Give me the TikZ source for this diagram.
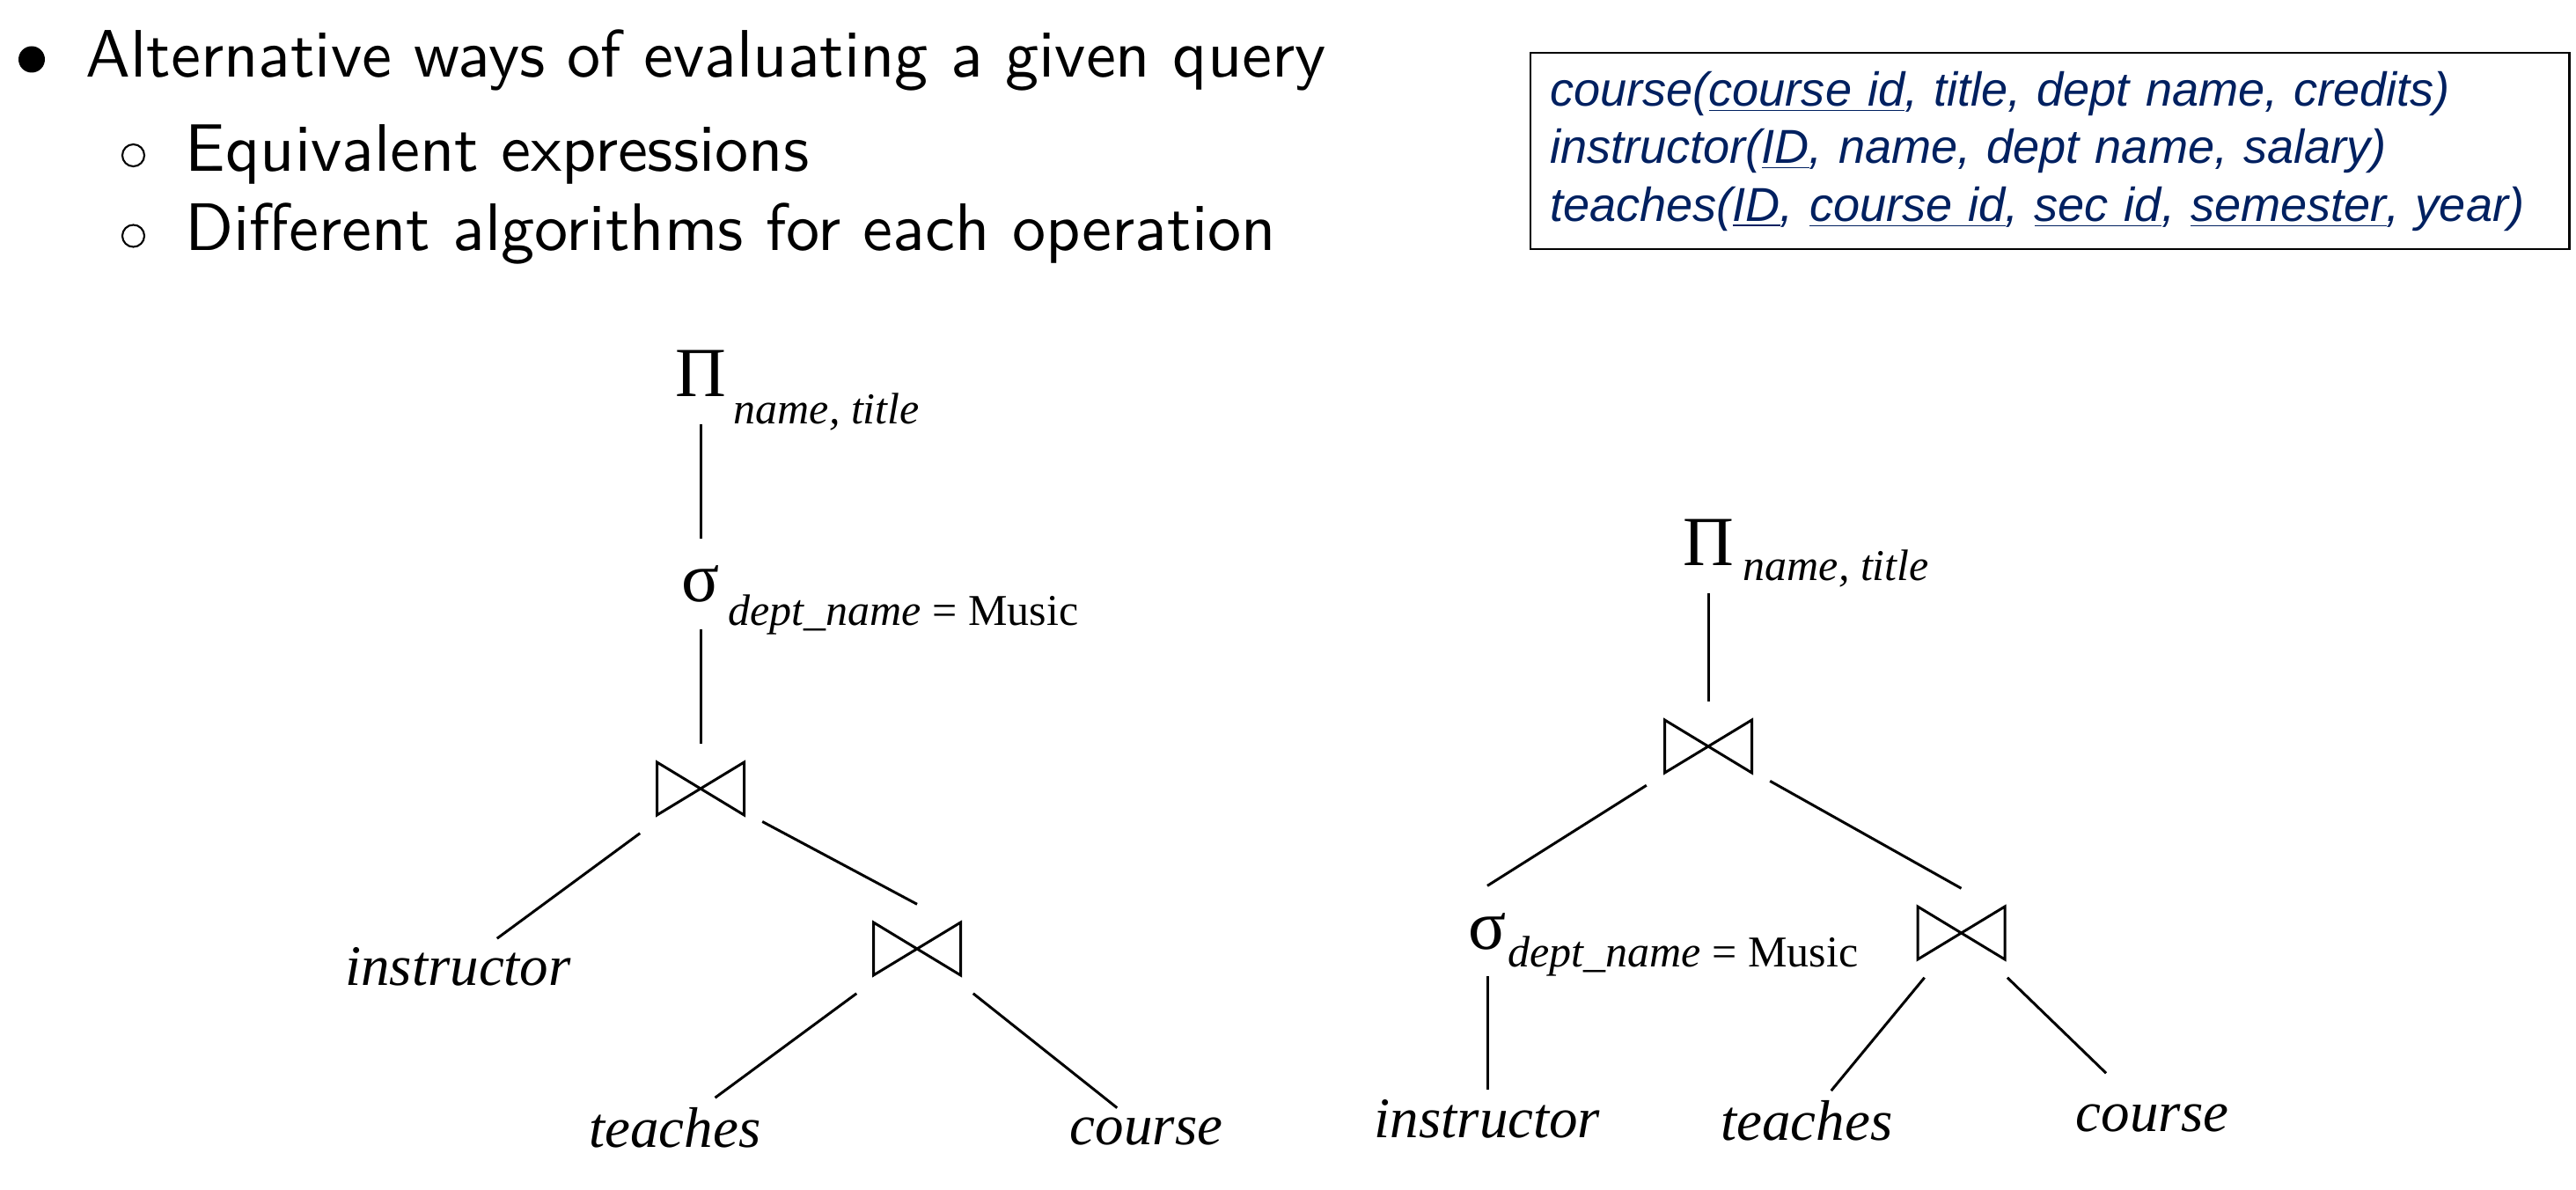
\documentclass[tikz,border=0pt]{standalone}
\usepackage{fontspec}
\newfontfamily\slidefont{lmsans10-regular.otf}
\newfontfamily\treefont{Liberation Serif}
\newfontfamily\schemafont{Liberation Sans}
\definecolor{schemablue}{RGB}{0,32,96}
% bowtie drawn round a join node
\newcommand{\joinmark}[1]{\draw[tree line] (#1.center) ++(-0.495,0.3) -- ++(0.99,-0.6) -- ++(0,0.6) -- ++(-0.99,-0.6) -- cycle;}

\begin{document}
\begin{tikzpicture}[
        tree line/.style={line width=0.85pt},
        item text/.style={anchor=base west, inner sep=0pt, font=\slidefont\fontsize{21.7}{26}\selectfont},
        dot/.style={circle, fill, inner sep=0pt, minimum size=0.3cm},
        ring/.style={circle, draw, line width=0.6pt, inner sep=0pt, minimum size=0.25cm},
        op/.style={anchor=base, inner sep=0.3cm, font=\treefont\fontsize{22.76}{27}\selectfont},
        sub/.style={anchor=base west, inner sep=0pt, font=\treefont\itshape\fontsize{14.23}{17}\selectfont},
        leaf/.style={anchor=base, inner sep=0.1cm, font=\treefont\itshape\fontsize{18.5}{22}\selectfont},
        joinbox/.style={minimum width=1.39cm, minimum height=1cm, inner sep=0pt},
        schema/.style={draw, line width=0.7pt, anchor=north west, minimum height=2.23cm,
            text width=11.36cm, inner xsep=0.22cm, align=left, text=schemablue,
            font=\schemafont\itshape\fontsize{15.4}{18.64}\selectfont}
    ]
        \useasboundingbox (0,0) rectangle (29.27,-13.52);

        % Bullet list
        \node[dot] (dot1) at (0.36,-0.675) {};
        \node[item text] (item1) at (0.97,-0.88) {Alternative ways of evaluating a given query};
        \node[ring] (ring1) at (1.515,-1.765) {};
        \node[item text] (item2) at (2.10,-1.95) {Equivalent expressions};
        \node[ring] (ring2) at (1.515,-2.68) {};
        \node[item text] (item3) at (2.10,-2.85) {Different algorithms for each operation};

        % Relation schemas
        \node[schema] (schema) at (17.38,-0.59) {course(\underline{course id}, title, dept name, credits)\\
            instructor(\underline{ID}, name, dept name, salary)\\
            teaches(\underline{ID}, \underline{course id}, \underline{sec id}, \underline{semester}, year)};

        % Left tree: select after the joins
        \node[op] (proj1) at (7.96,-4.51) {Π};
        \node[sub] (proj1-sub) at (8.33,-4.82) {name, title};
        \node[op] (sel1) at (7.96,-6.84) {σ};
        \node[sub] (sel1-sub) at (8.27,-7.11) {dept\_name\textup{ = Music}};
        \node[joinbox] (join1) at (7.96,-8.96) {};
        \node[leaf] (instr1) at (5.205,-11.20) {instructor};
        \node[joinbox] (join2) at (10.42,-10.78) {};
        \node[leaf] (teach1) at (7.67,-13.03) {teaches};
        \node[leaf] (course1) at (13.025,-13.00) {course};
        \joinmark{join1}
        \joinmark{join2}

        \draw[tree line] (proj1) -- (sel1);
        \draw[tree line] (sel1) -- (join1);
        \draw[tree line] (join1) -- (instr1);
        \draw[tree line] (join1) -- (join2.north);
        \draw[tree line] (join2) -- (teach1);
        \draw[tree line] (join2) -- (course1);

        % Right tree: select pushed down to instructor
        \node[op] (proj2) at (19.41,-6.43) {Π};
        \node[sub] (proj2-sub) at (19.80,-6.60) {name, title};
        \node[joinbox] (join3) at (19.41,-8.48) {};
        \node[op] (sel2) at (16.90,-10.78) {σ};
        \node[sub] (sel2-sub) at (17.13,-10.98) {dept\_name\textup{ = Music}};
        \node[joinbox] (join4) at (22.285,-10.60) {};
        \node[leaf] (instr2) at (16.90,-12.92) {instructor};
        \node[leaf] (teach2) at (20.53,-12.95) {teaches};
        \node[leaf] (course2) at (24.455,-12.85) {course};
        \joinmark{join3}
        \joinmark{join4}

        \draw[tree line] (proj2) -- (join3);
        \draw[tree line] (join3) -- (sel2.north);
        \draw[tree line] (join3) -- (join4.north);
        \draw[tree line] (sel2) -- (instr2);
        \draw[tree line] (join4) -- (teach2);
        \draw[tree line, shorten >=0.35cm] (join4) -- (course2);
    \end{tikzpicture}
\end{document}
